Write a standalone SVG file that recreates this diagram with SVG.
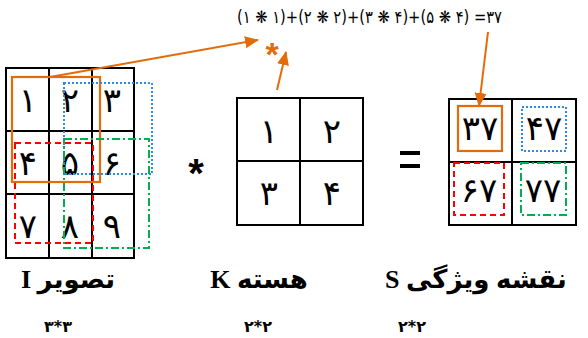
<svg xmlns="http://www.w3.org/2000/svg" width="588" height="338" viewBox="0 0 588 338">
<defs>
<marker id="ah" markerUnits="userSpaceOnUse" markerWidth="14" markerHeight="12" refX="13" refY="6" orient="auto">
<path d="M0,0 L14,6 L0,12 Z" fill="#E36C09"/>
</marker>
<style>
.grid{fill:none;stroke:#000;stroke-width:2}
.d{font-family:"DejaVu Sans","Noto Sans",sans-serif;font-size:34px;text-anchor:middle;fill:#000}
.or{fill:none;stroke:#E36C09;stroke-width:2.2}
.bl{fill:none;stroke:#2E8BE0;stroke-width:2;stroke-dasharray:2 2}
.rd{fill:none;stroke:#FF0000;stroke-width:2;stroke-dasharray:6 4}
.gr{fill:none;stroke:#00B050;stroke-width:2;stroke-dasharray:8 3 2 3}
.arr{stroke:#E36C09;stroke-width:2;fill:none;marker-end:url(#ah)}
.lab{font-family:"Liberation Serif","DejaVu Sans",serif;font-weight:bold;font-size:26px;fill:#000}
.sub{font-family:"DejaVu Sans",sans-serif;font-weight:bold;font-size:16px;text-anchor:middle;fill:#000}
</style>
</defs>
<rect width="588" height="338" fill="#fff"/>

<g id="image-I">
<rect class="grid" x="6" y="68" width="128" height="190"/>
<line class="grid" x1="49" y1="68" x2="49" y2="258"/>
<line class="grid" x1="92" y1="68" x2="92" y2="258"/>
<line class="grid" x1="6" y1="131" x2="134" y2="131"/>
<line class="grid" x1="6" y1="194" x2="134" y2="194"/>
<text class="d" x="28" y="112">۱</text>
<text class="d" x="70" y="112">۲</text>
<text class="d" x="112" y="112">۳</text>
<text class="d" x="28" y="175">۴</text>
<text class="d" x="70" y="175">۵</text>
<text class="d" x="112" y="175">۶</text>
<text class="d" x="28" y="238">۷</text>
<text class="d" x="70" y="238">۸</text>
<text class="d" x="112" y="238">۹</text>
<rect class="or" x="12" y="77" width="88" height="105"/>
<rect class="bl" x="64" y="83" width="88" height="91"/>
<rect class="rd" x="15" y="143" width="78" height="100"/>
<rect class="gr" x="64" y="139" width="85" height="109"/>
</g>

<g id="op-star"><text x="196" y="187" font-family="Liberation Sans,sans-serif" font-weight="bold" font-size="40" text-anchor="middle">*</text></g>

<g id="kernel-K">
<rect class="grid" x="237" y="98" width="126" height="127"/>
<line class="grid" x1="300" y1="98" x2="300" y2="225"/>
<line class="grid" x1="237" y1="161" x2="363" y2="161"/>
<text class="d" x="269" y="143">۱</text>
<text class="d" x="332" y="143">۲</text>
<text class="d" x="269" y="205">۳</text>
<text class="d" x="332" y="205">۴</text>
</g>

<g id="op-eq"><rect x="400" y="151" width="20" height="4" fill="#000"/><rect x="400" y="164" width="20" height="4" fill="#000"/></g>

<g id="feature-S">
<rect class="grid" x="449" y="99" width="127" height="126"/>
<line class="grid" x1="512" y1="99" x2="512" y2="225"/>
<line class="grid" x1="449" y1="162" x2="576" y2="162"/>
<text class="d" x="480" y="140">۳۷</text>
<text class="d" x="544" y="140">۴۷</text>
<text class="d" x="479" y="202">۶۷</text>
<text class="d" x="543" y="202">۷۷</text>
<rect class="or" x="458" y="106" width="44" height="45"/>
<rect class="bl" x="522" y="107" width="44" height="44"/>
<rect class="rd" x="454" y="163" width="50" height="52"/>
<rect class="gr" x="521" y="163" width="45" height="52"/>
</g>

<g id="formula">
<text x="237" y="23" font-family="DejaVu Sans,sans-serif" font-size="17" textLength="265" lengthAdjust="spacingAndGlyphs" fill="#000">(۱ ❋ ۱)+(۲ ❋ ۲)+(۳ ❋ ۴)+(۵ ❋ ۴) =۳۷</text>
</g>
<g id="orange-star"><text x="272" y="66" font-family="Liberation Sans,sans-serif" font-weight="bold" font-size="34" text-anchor="middle" fill="#E36C09">*</text></g>

<g id="connectors">
<line class="arr" x1="50" y1="77" x2="258" y2="40"/>
<line class="arr" x1="277" y1="90" x2="286" y2="52"/>
<line class="arr" x1="488" y1="32" x2="479" y2="106"/>
</g>

<g id="labels">
<text class="lab" x="68" y="288" text-anchor="middle" direction="rtl" unicode-bidi="embed">تصویر I</text>
<text class="lab" x="259" y="288" text-anchor="middle" direction="rtl" unicode-bidi="embed">هسته K</text>
<text class="lab" x="385" y="288" text-anchor="end" direction="rtl" unicode-bidi="embed">نقشه ویژگی S</text>
<text class="sub" x="58" y="332">۳*۳</text>
<text class="sub" x="258" y="332">۲*۲</text>
<text class="sub" x="412" y="332">۲*۲</text>
</g>
</svg>
